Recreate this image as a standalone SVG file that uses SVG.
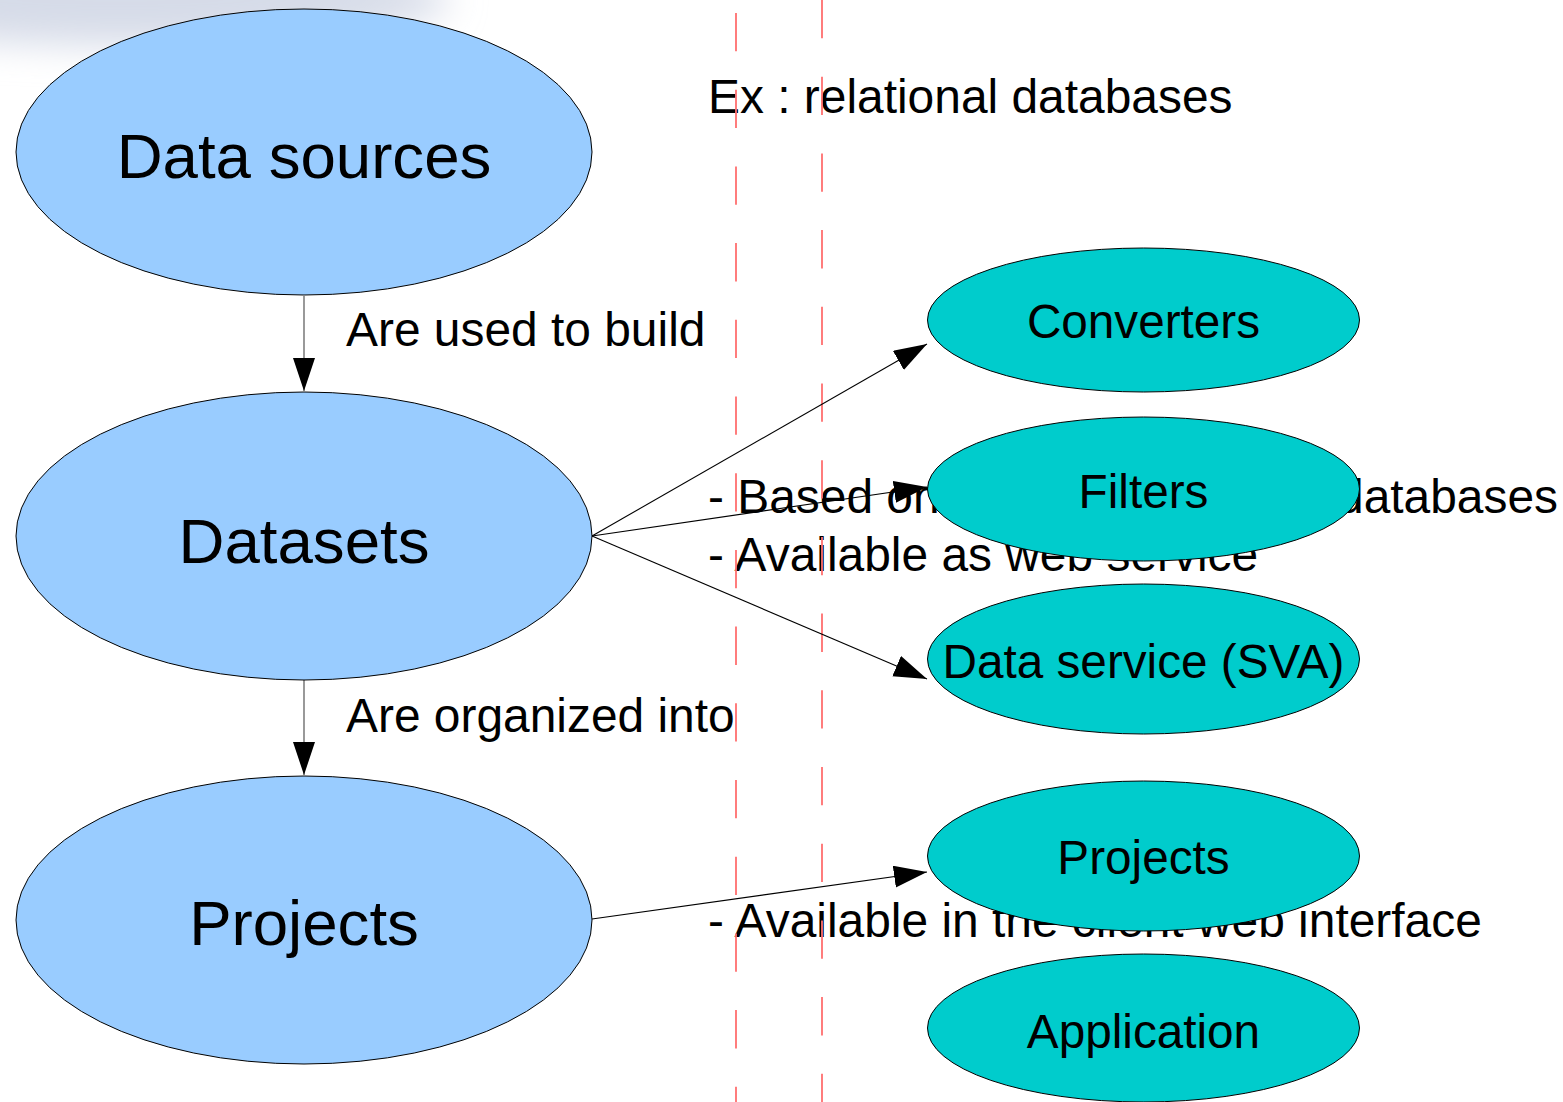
<svg xmlns="http://www.w3.org/2000/svg" width="1563" height="1102" viewBox="0 0 1563 1102">
<style>
text{font-family:"Liberation Sans",Arial,sans-serif;fill:#000}
.big{font-size:63.6px;text-anchor:middle}
.mid{font-size:47.7px;text-anchor:middle}
.lbl{font-size:47.9px}
.src{fill:#99ccff;stroke:#000;stroke-width:1}
.out{fill:#00cccc;stroke:#000;stroke-width:1}
.guide{stroke:#ff6f6f;stroke-width:1.8;stroke-dasharray:38.3 38.4;fill:none}
.vline{stroke:#808080;stroke-width:1.6;fill:none}
.dline{stroke:#000;stroke-width:1.1;fill:none}
</style>
<defs>
<marker id="arr" markerUnits="userSpaceOnUse" markerWidth="34" markerHeight="24" refX="33" refY="11" orient="auto">
<path d="M0,0 L33,11 L0,22 Z" fill="#000"/>
</marker>
<filter id="blur" x="-50%" y="-50%" width="200%" height="200%"><feGaussianBlur stdDeviation="18"/></filter>
</defs>
<rect width="1563" height="1102" fill="#fff"/>
<ellipse cx="120" cy="0" rx="330" ry="45" fill="#d6dbe8" filter="url(#blur)"/>
<g id="labels">
<text class="lbl" x="708" y="113">Ex : relational databases</text>
<text class="lbl" x="346" y="346">Are used to build</text>
<text class="lbl" x="346" y="732">Are organized into</text>
<text class="lbl" x="708" y="513">- Based on</text>
<text class="lbl" x="1337" y="513">databases</text>
<text class="lbl" x="708" y="571">- Available as web service</text>
<text class="lbl" x="708" y="937">- Available in the client web interface</text>
</g>
<g id="guides">
<line class="guide" x1="736" y1="13" x2="736" y2="1102"/>
<line class="guide" x1="822" y1="0" x2="822" y2="1102"/>
</g>
<g id="connectors">
<line class="vline" x1="304" y1="296" x2="304" y2="391" marker-end="url(#arr)"/>
<line class="vline" x1="304" y1="680" x2="304" y2="775" marker-end="url(#arr)"/>
<line class="dline" x1="592" y1="536" x2="927" y2="344" marker-end="url(#arr)"/>
<line class="dline" x1="592" y1="536" x2="927" y2="487" marker-end="url(#arr)"/>
<line class="dline" x1="592" y1="536" x2="927" y2="679" marker-end="url(#arr)"/>
<line class="dline" x1="592" y1="919" x2="927" y2="872" marker-end="url(#arr)"/>
</g>
<g id="node-data-sources">
<ellipse class="src" cx="304" cy="152" rx="288" ry="143"/>
<text class="big" x="304" y="178">Data sources</text>
</g>
<g id="node-datasets">
<ellipse class="src" cx="304" cy="536" rx="288" ry="144"/>
<text class="big" x="304" y="563">Datasets</text>
</g>
<g id="node-projects">
<ellipse class="src" cx="304" cy="920" rx="288" ry="144"/>
<text class="big" x="304" y="945">Projects</text>
</g>
<g id="node-converters">
<ellipse class="out" cx="1143.5" cy="320" rx="216" ry="72"/>
<text class="mid" x="1143.5" y="338">Converters</text>
</g>
<g id="node-filters">
<ellipse class="out" cx="1143.5" cy="489" rx="216" ry="72"/>
<text class="mid" x="1143.5" y="508">Filters</text>
</g>
<g id="node-data-service">
<ellipse class="out" cx="1143.5" cy="659" rx="216" ry="75"/>
<text class="mid" x="1143.5" y="678">Data service (SVA)</text>
</g>
<g id="node-projects-out">
<ellipse class="out" cx="1143.5" cy="856" rx="216" ry="75"/>
<text class="mid" x="1143.5" y="874">Projects</text>
</g>
<g id="node-application">
<ellipse class="out" cx="1143.5" cy="1028" rx="216" ry="74"/>
<text class="mid" x="1143.5" y="1048">Application</text>
</g>
</svg>
